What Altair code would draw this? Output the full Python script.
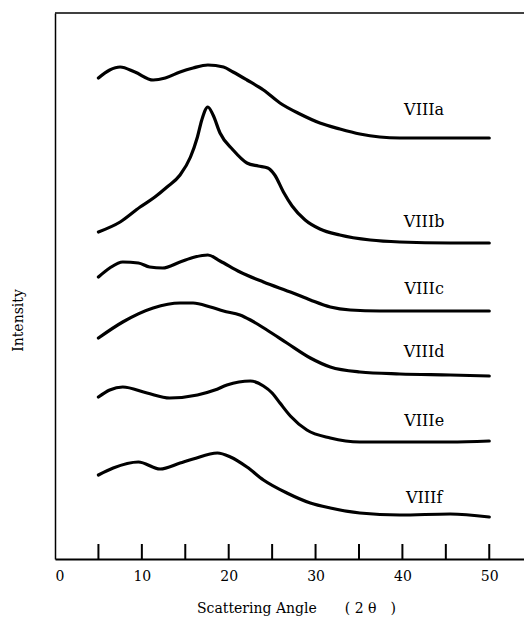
import altair as alt
import pandas as pd

# ---- data (angle in degrees 2θ, intensity in arbitrary units) ----
a_x = [5.0, 6.3, 7.5, 9.2, 11.3, 12.7, 14.4, 15.9, 17.6, 19.4, 20.5, 22.1, 24.0, 25.9, 28.2, 30.5, 32.8, 35.1, 37.4, 39.7, 42.1, 45.5, 47.8, 50.0]
a_y = [481, 489, 492, 487, 479, 481, 487, 491, 494, 492, 487, 479, 469, 456, 445, 436, 430, 425, 422, 421, 421, 421, 421, 421]

b_x = [5.0, 7.5, 9.8, 11.5, 12.9, 14.4, 15.6, 16.4, 16.9, 17.6, 18.2, 19.0, 20.5, 22.1, 23.4, 24.5, 25.3, 26.3, 27.3, 28.8, 30.5, 32.8, 36.3, 39.7, 45.5, 50.0]
b_y = [327, 337, 352, 362, 372, 384, 402, 422, 439, 452, 444, 426, 409, 396, 393, 391, 384, 367, 353, 339, 330, 324, 319, 317, 316, 316]

c_x = [5.0, 6.3, 7.8, 9.6, 10.9, 12.4, 14.4, 16.1, 17.6, 19.0, 21.3, 24.0, 27.4, 29.4, 31.7, 34.0, 37.4, 42.1, 46.7, 50.0]
c_y = [282, 291, 297, 296, 292, 291, 297, 302, 304, 298, 287, 277, 266, 259, 252, 249, 248, 248, 248, 248]

d_x = [5.0, 7.8, 11.3, 14.4, 15.9, 17.9, 19.4, 21.3, 22.5, 24.4, 26.7, 29.4, 31.7, 35.1, 39.7, 45.5, 50.0]
d_y = [221, 237, 251, 256, 256, 252, 248, 244, 239, 229, 216, 201, 192, 187, 185, 184, 183]

e_x = [5.0, 6.3, 7.8, 10.6, 13.2, 16.4, 18.4, 19.8, 22.5, 24.0, 25.0, 25.9, 27.1, 29.0, 31.7, 35.1, 39.7, 45.5, 50.0]
e_y = [162, 169, 172, 166, 161, 164, 169, 174, 178, 173, 166, 156, 143, 129, 121, 117, 117, 117, 118]

f_x = [5.0, 6.7, 9.6, 12.1, 14.4, 15.9, 18.7, 20.2, 22.1, 24.0, 26.7, 29.4, 31.7, 35.1, 39.7, 45.5, 50.0]
f_y = [84, 91, 97, 90, 96, 100, 106, 102, 92, 79, 66, 56, 51, 46, 44, 45, 42]

series_names = ["VIIIa", "VIIIb", "VIIIc", "VIIId", "VIIIe", "VIIIf"]
label_x = [42.5, 42.5, 42.5, 42.5, 42.5, 42.5]
label_y = [449, 337, 270, 207, 138, 61]

tick_values = [5, 10, 15, 20, 25, 30, 35, 40, 45, 50]
label_values = [0, 10, 20, 30, 40, 50]

# ---- build tables ----
rows = []
for name, xs, ys in zip(series_names, [a_x, b_x, c_x, d_x, e_x, f_x], [a_y, b_y, c_y, d_y, e_y, f_y]):
    for x, y in zip(xs, ys):
        rows.append({"series": name, "angle": x, "intensity": y})
df = pd.DataFrame(rows)
labels_df = pd.DataFrame({"name": series_names, "angle": label_x, "intensity": label_y})
ticks_df = pd.DataFrame({"angle": tick_values})

W, H = 469, 546
FONT = "DejaVu Serif"

xscale = alt.Scale(domain=[0, 54], nice=False, zero=False)
yscale = alt.Scale(domain=[0, 546], nice=False, zero=False)

x_axis = alt.Axis(
    values=label_values, tickSize=0, grid=False,
    domainColor="black", domainWidth=2,
    labelFont=FONT, labelFontSize=14, labelColor="black", labelPadding=10, labelFlush=True,
    title="Scattering Angle\u3000\u3000( 2 \u03b8\u3000)",
    titleFont=FONT, titleFontSize=14, titleFontWeight="normal", titleColor="black",
    titleX=241, titleY=49, titleAlign="center", titleBaseline="middle", titleAnchor="start",
)
y_axis = alt.Axis(
    ticks=False, labels=False, grid=False,
    domainColor="black", domainWidth=1.5,
    title="Intensity", titleFont=FONT, titleFontSize=14, titleFontWeight="normal", titleColor="black",
    titleX=-37, titleY=307, titleAngle=270, titleAlign="center", titleBaseline="middle",
)

lines = alt.Chart(df).mark_line(color="black", strokeWidth=3.2, strokeJoin="round", strokeCap="round",
                                interpolate="monotone").encode(
    x=alt.X("angle:Q", scale=xscale, axis=x_axis),
    y=alt.Y("intensity:Q", scale=yscale, axis=y_axis),
    detail="series:N",
)

texts = alt.Chart(labels_df).mark_text(font=FONT, fontSize=16, color="black", align="center", baseline="middle").encode(
    x=alt.X("angle:Q", scale=xscale),
    y=alt.Y("intensity:Q", scale=yscale),
    text="name:N",
)

ticks = alt.Chart(ticks_df).mark_rule(color="black", strokeWidth=2).encode(
    x=alt.X("angle:Q", scale=xscale),
    y=alt.value(H),
    y2=alt.value(H - 15),
)

top_border = alt.Chart(pd.DataFrame({"k": [0]})).mark_rule(color="black", strokeWidth=1.5).encode(
    x=alt.value(0), x2=alt.value(W), y=alt.value(0)
)

chart = alt.layer(lines, ticks, top_border, texts).properties(
    width=W, height=H,
    autosize=alt.AutoSizeParams(type="none"),
    padding={"left": 47, "top": 5, "right": 0, "bottom": 59},
    background="white",
).configure_view(stroke=None)

chart.save("out.html", embed_options={"renderer": "svg", "actions": False})
